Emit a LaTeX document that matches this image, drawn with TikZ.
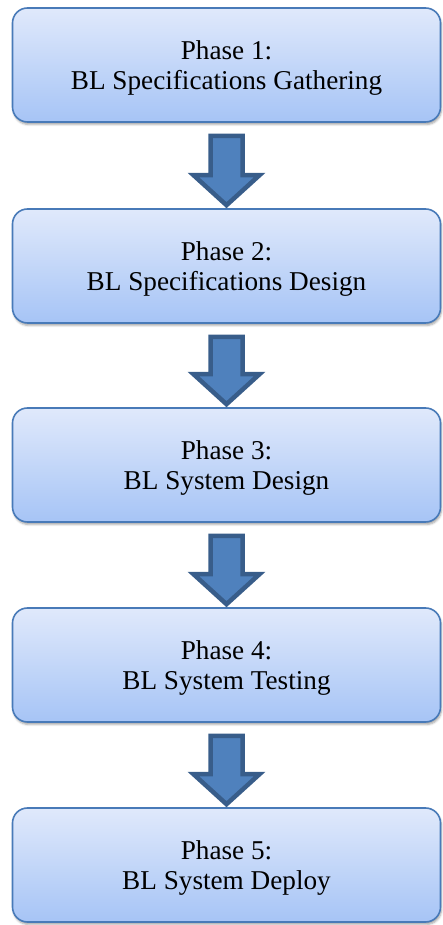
\documentclass[tikz,border=0pt]{standalone}
\usepackage{fontspec}
\setmainfont{Liberation Serif}
\usepackage[dvipsnames]{xcolor}
\usetikzlibrary{shadows.blur,calc}
\definecolor{phasetop}{RGB}{224,233,251}
\definecolor{phasebot}{RGB}{166,196,246}
\definecolor{phaseline}{RGB}{72,122,184}
\definecolor{arrowfill}{RGB}{79,129,189}
\definecolor{arrowline}{RGB}{56,93,138}

\begin{document}
\begin{tikzpicture}[x=1pt, y=1pt,
  phase/.style={draw=phaseline, line width=1.6pt, rounded corners=15pt,
    top color=phasetop, bottom color=phasebot, minimum width=428pt,
    minimum height=114pt, align=center, font=\fontsize{27.2}{30}\selectfont,
    text height=54pt,
    blur shadow={shadow xshift=1pt, shadow yshift=-2.5pt, shadow blur radius=2pt, shadow opacity=35}},
  blockarrow/.style={fill=arrowfill, draw=arrowline, line width=4.5pt, line join=miter}]
\useasboundingbox (0,0) rectangle (442,925);
\node[phase] (p1) at (226.5,860) {Phase 1:\\BL Specifications Gathering};
\node[phase] (p2) at (226.5,659) {Phase 2:\\BL Specifications Design};
\node[phase] (p3) at (226.5,460) {Phase 3:\\BL System Design};
\node[phase] (p4) at (226.5,260) {Phase 4:\\BL System Testing};
\node[phase] (p5) at (226.5,60) {Phase 5:\\BL System Deploy};
\foreach \a/\b in {p1/p2,p2/p3,p3/p4,p4/p5}
\draw[blockarrow] let \p1=(\a.south), \p2=(\b.north) in
  (\x1-16pt,\y1-13pt) -- (\x1+16pt,\y1-13pt) -- (\x1+16pt,\y2+33pt) -- (\x1+33pt,\y2+33pt)
  -- (\x1,\y2+3pt) -- (\x1-33pt,\y2+33pt) -- (\x1-16pt,\y2+33pt) -- cycle;
\end{tikzpicture}
\end{document}
